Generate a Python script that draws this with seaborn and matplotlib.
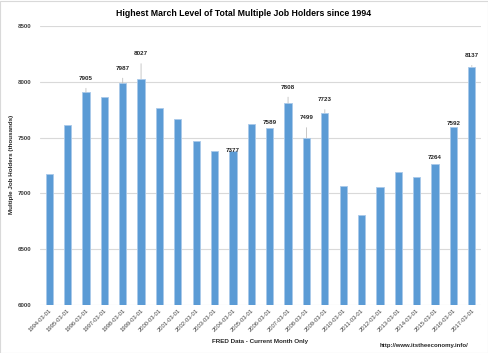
import matplotlib
matplotlib.use("Agg")
import matplotlib.pyplot as plt
import seaborn as sns
import pandas as pd
from matplotlib.patches import Rectangle

dates = [f"{y}-03-01" for y in range(1994, 2018)]
values = [7176, 7611, 7905, 7867, 7987, 8027, 7761, 7668, 7467, 7383, 7377, 7620,
          7589, 7808, 7499, 7723, 7066, 6810, 7053, 7192, 7147, 7264, 7592, 8137]
labeled = {"1996-03-01": 14, "1998-03-01": 15, "1999-03-01": 25, "2004-03-01": 1,
           "2006-03-01": 5, "2007-03-01": 16, "2008-03-01": 20, "2009-03-01": 13,
           "2015-03-01": 6, "2016-03-01": 4, "2017-03-01": 11}
yticks = [6000, 6500, 7000, 7500, 8000, 8500]

df = pd.DataFrame({"date": dates, "value": values})

sns.set_style("white")
plt.rcParams["font.family"] = ["Liberation Sans", "DejaVu Sans"]

fig = plt.figure(figsize=(4.89, 3.53), dpi=100)
ax = fig.add_axes([40/489, 48/353, 441/489, 279/353])
sns.barplot(data=df, x="date", y="value", color="#5B9BD5", width=0.4,
            edgecolor="#A9C9EA", linewidth=0.6, saturation=1, ax=ax)
ax.set_ylim(6000, 8500)
ax.set_yticks(yticks)
ax.yaxis.grid(True, color="#D9D9D9", linewidth=0.8)
ax.set_axisbelow(True)
for s in ax.spines.values():
    s.set_visible(False)
ax.tick_params(axis="both", length=0)
ax.tick_params(axis="y", pad=6)
ax.tick_params(axis="x", pad=2)
ax.set_yticklabels([str(v) for v in yticks], fontsize=4.4, fontweight="bold", color="#404040")
ax.set_xticks(range(len(dates)))
ax.set_xticklabels(dates, rotation=45, ha="right", rotation_mode="anchor",
                   fontsize=4.2, color="#404040")
ax.set_xlabel("")
ax.set_ylabel("")

for i, (d, v) in enumerate(zip(dates, values)):
    if d in labeled:
        off = labeled[d]
        ax.annotate(str(v), xy=(i, v), xytext=(0, off), textcoords="offset pixels",
                    ha="center", va="center", fontsize=4.5, fontweight="bold",
                    color="#262626",
                    arrowprops=dict(arrowstyle="-", color="#BFBFBF", lw=0.6,
                                    shrinkA=3, shrinkB=0) if off > 8 else None)

fig.text(244/489, 1 - 13/353, "Highest March Level of Total Multiple Job Holders since 1994",
         ha="center", va="center", fontsize=6.3, fontweight="bold", color="#000000")
fig.text(260/489, 1 - 342/353, "FRED Data - Current Month Only", ha="center", va="center",
         fontsize=4.5, fontweight="bold", color="#262626")
fig.text(12/489, 1 - 164/353, "Multiple Job Holders (thousands)", ha="center", va="center",
         rotation=90, fontsize=4.5, fontweight="bold", color="#262626")
fig.text(424/489, 1 - 345/353, "http://www.itstheeconomy.info/", ha="center", va="center",
         fontsize=4.3, fontweight="bold", color="#262626")
fig.patches.append(Rectangle((0.001, 0.001), 0.997, 0.997, transform=fig.transFigure,
                             fill=False, edgecolor="#D9D9D9", linewidth=0.8))

fig.savefig("out.png", dpi=100)
